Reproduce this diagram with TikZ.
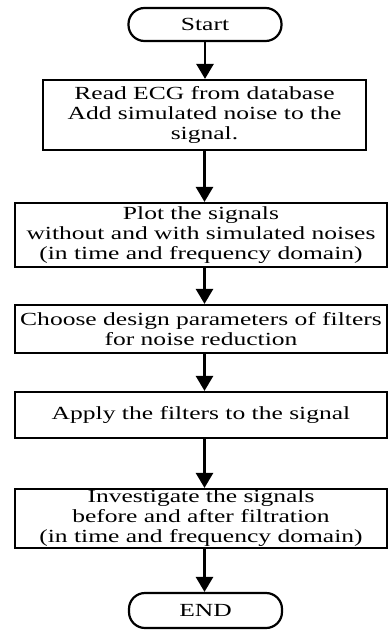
\documentclass[tikz,border=0pt]{standalone}
\usepackage{fontspec}
\setmainfont{Liberation Serif}[FakeStretch=1.38]
\usetikzlibrary{arrows.meta}
\begin{document}
\begin{tikzpicture}[x=1pt,y=1pt]
\tikzset{
  proc/.style={draw, line width=2.2pt, inner sep=0pt, align=center,
    font=\fontsize{18.5}{20}\selectfont},
  term/.style={proc, rounded corners=16pt},
  flow/.style={line width=2.6pt, -{Triangle[width=17pt,length=15pt]}}
}
\useasboundingbox (0,0) rectangle (388,-630);
\node[term, minimum width=153pt, minimum height=33pt] (start) at (205,-24.5) {Start};
\node[proc, minimum width=323pt, minimum height=70pt] (b1) at (204.5,-115)
  {Read ECG from database\\Add simulated noise to the\\signal.};
\node[proc, minimum width=372pt, minimum height=64pt] (b2) at (201,-235)
  {Plot the signals\\without and with simulated noises\\(in time and frequency domain)};
\node[proc, minimum width=372pt, minimum height=48pt] (b3) at (201,-329)
  {Choose design parameters of filters\\for noise reduction};
\node[proc, minimum width=372pt, minimum height=46pt] (b4) at (201,-415)
  {Apply the filters to the signal};
\node[proc, minimum width=372pt, minimum height=59pt] (b5) at (201,-518.5)
  {Investigate the signals\\before and after filtration\\(in time and frequency domain)};
\node[term, minimum width=153pt, minimum height=35pt] (end) at (205.5,-610.5) {END};
\draw[flow] (start.south) -- (start.south |- b1.north);
\draw[flow] (b1.south) -- (b1.south |- b2.north);
\draw[flow] (b1.south |- b2.south) -- (b1.south |- b3.north);
\draw[flow] (b1.south |- b3.south) -- (b1.south |- b4.north);
\draw[flow] (b1.south |- b4.south) -- (b1.south |- b5.north);
\draw[flow] (b1.south |- b5.south) -- (b1.south |- end.north);
\end{tikzpicture}
\end{document}
